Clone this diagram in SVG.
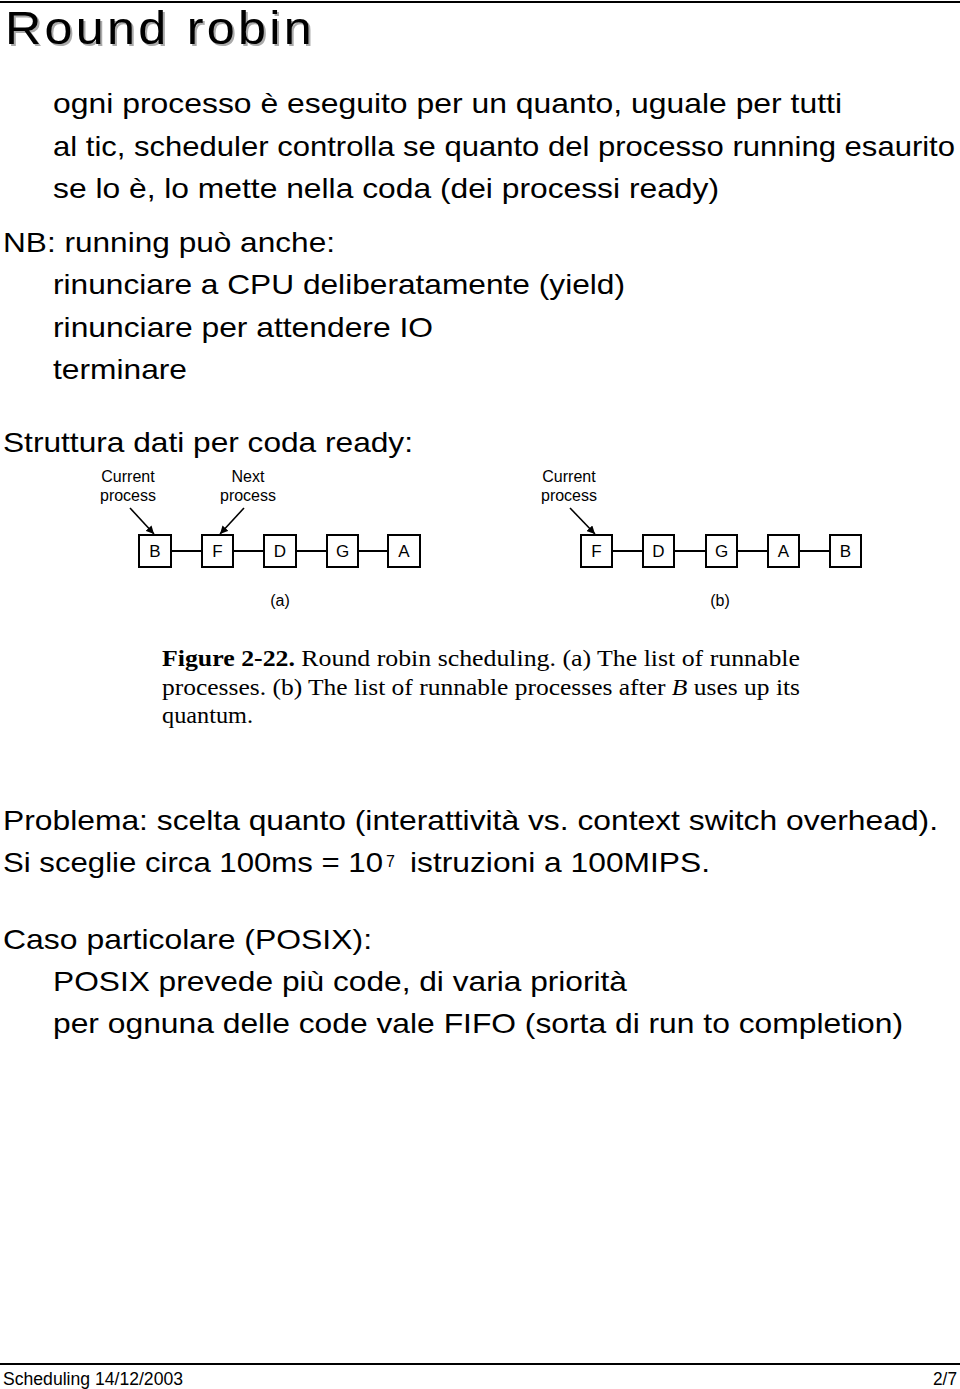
<svg xmlns="http://www.w3.org/2000/svg" width="960" height="1389" viewBox="0 0 960 1389">
<defs>
<marker id="ah" viewBox="0 0 10 10" refX="10" refY="5" markerWidth="8" markerHeight="8" orient="auto" markerUnits="userSpaceOnUse">
<path d="M0,0 L10,5 L0,10 z" fill="#000"/>
</marker>
</defs>
<style>
.body{font-family:"Liberation Sans",Arial,sans-serif;font-size:28px;fill:#000}
.sup{font-family:"Liberation Sans",Arial,sans-serif;font-size:16px;fill:#000}
.lab{font-family:"Liberation Sans",Arial,sans-serif;font-size:16px;fill:#000}
.box{fill:#fff;stroke:#000;stroke-width:2}
.bt{font-family:"Liberation Sans",Arial,sans-serif;font-size:17px;fill:#000;text-anchor:middle}
.cap{font-family:"Liberation Serif","Times New Roman",serif;font-size:24px;fill:#000}
.conn{stroke:#000;stroke-width:2;fill:none}
.arr{stroke:#000;stroke-width:1.6;fill:none;marker-end:url(#ah)}
.foot{font-family:"Liberation Sans",Arial,sans-serif;font-size:18px;fill:#000}
.title{font-family:"Liberation Sans",Arial,sans-serif;font-size:46px;letter-spacing:3px}
</style>
<rect width="960" height="1389" fill="#fff"/>
<line x1="0" y1="2" x2="960" y2="2" stroke="#000" stroke-width="2"/>
<text class="title" x="7" y="46" fill="#aaa" textLength="310" lengthAdjust="spacingAndGlyphs">Round robin</text>
<text class="title" x="5" y="44" fill="#000" textLength="310" lengthAdjust="spacingAndGlyphs">Round robin</text>

<text class="body" x="53" y="113" textLength="789" lengthAdjust="spacingAndGlyphs">ogni processo è eseguito per un quanto, uguale per tutti</text>
<text class="body" x="53" y="156" textLength="902" lengthAdjust="spacingAndGlyphs">al tic, scheduler controlla se quanto del processo running esaurito</text>
<text class="body" x="53" y="198" textLength="666" lengthAdjust="spacingAndGlyphs">se lo è, lo mette nella coda (dei processi ready)</text>
<text class="body" x="3" y="252" textLength="332" lengthAdjust="spacingAndGlyphs">NB: running può anche:</text>
<text class="body" x="53" y="294" textLength="572" lengthAdjust="spacingAndGlyphs">rinunciare a CPU deliberatamente (yield)</text>
<text class="body" x="53" y="337" textLength="380" lengthAdjust="spacingAndGlyphs">rinunciare per attendere IO</text>
<text class="body" x="53" y="379" textLength="134" lengthAdjust="spacingAndGlyphs">terminare</text>
<text class="body" x="3" y="452" textLength="410" lengthAdjust="spacingAndGlyphs">Struttura dati per coda ready:</text>

<g id="labels">
<text class="lab" x="128" y="482" text-anchor="middle">Current</text>
<text class="lab" x="128" y="501" text-anchor="middle">process</text>
<text class="lab" x="248" y="482" text-anchor="middle">Next</text>
<text class="lab" x="248" y="501" text-anchor="middle">process</text>
<text class="lab" x="569" y="482" text-anchor="middle">Current</text>
<text class="lab" x="569" y="501" text-anchor="middle">process</text>
<text class="lab" x="280" y="606" text-anchor="middle">(a)</text>
<text class="lab" x="720" y="606" text-anchor="middle">(b)</text>
</g>

<g id="connectors">
<line class="conn" x1="171" y1="551" x2="202" y2="551"/>
<line class="conn" x1="233" y1="551" x2="264" y2="551"/>
<line class="conn" x1="296" y1="551" x2="327" y2="551"/>
<line class="conn" x1="358" y1="551" x2="388" y2="551"/>
<line class="conn" x1="612" y1="551" x2="643" y2="551"/>
<line class="conn" x1="674" y1="551" x2="706" y2="551"/>
<line class="conn" x1="737" y1="551" x2="768" y2="551"/>
<line class="conn" x1="799" y1="551" x2="830" y2="551"/>
<line class="arr" x1="130" y1="508" x2="154" y2="534"/>
<line class="arr" x1="244" y1="508" x2="220" y2="534"/>
<line class="arr" x1="570" y1="508" x2="595" y2="534"/>
</g>

<g id="a-B"><rect class="box" x="139" y="535" width="32" height="32"/><text class="bt" x="155" y="557">B</text></g>
<g id="a-F"><rect class="box" x="202" y="535" width="31" height="32"/><text class="bt" x="217.5" y="557">F</text></g>
<g id="a-D"><rect class="box" x="264" y="535" width="32" height="32"/><text class="bt" x="280" y="557">D</text></g>
<g id="a-G"><rect class="box" x="327" y="535" width="31" height="32"/><text class="bt" x="342.5" y="557">G</text></g>
<g id="a-A"><rect class="box" x="388" y="535" width="32" height="32"/><text class="bt" x="404" y="557">A</text></g>

<g id="b-F"><rect class="box" x="581" y="535" width="31" height="32"/><text class="bt" x="596.5" y="557">F</text></g>
<g id="b-D"><rect class="box" x="643" y="535" width="31" height="32"/><text class="bt" x="658.5" y="557">D</text></g>
<g id="b-G"><rect class="box" x="706" y="535" width="31" height="32"/><text class="bt" x="721.5" y="557">G</text></g>
<g id="b-A"><rect class="box" x="768" y="535" width="31" height="32"/><text class="bt" x="783.5" y="557">A</text></g>
<g id="b-B"><rect class="box" x="830" y="535" width="31" height="32"/><text class="bt" x="845.5" y="557">B</text></g>

<text class="cap" x="162" y="666" textLength="638" lengthAdjust="spacingAndGlyphs"><tspan font-weight="bold">Figure 2-22.</tspan>  Round robin scheduling.  (a) The list of runnable</text>
<text class="cap" x="162" y="695" textLength="638" lengthAdjust="spacingAndGlyphs">processes.  (b) The list of runnable processes after <tspan font-style="italic">B</tspan> uses up its</text>
<text class="cap" x="162" y="723" textLength="91" lengthAdjust="spacingAndGlyphs">quantum.</text>

<text class="body" x="3" y="830" textLength="935" lengthAdjust="spacingAndGlyphs">Problema: scelta quanto (interattività vs. context switch overhead).</text>
<text class="body" x="3" y="872" textLength="380" lengthAdjust="spacingAndGlyphs">Si sceglie circa 100ms = 10</text>
<text class="sup" x="386" y="867">7</text>
<text class="body" x="410" y="872" textLength="300" lengthAdjust="spacingAndGlyphs">istruzioni a 100MIPS.</text>
<text class="body" x="3" y="949" textLength="369" lengthAdjust="spacingAndGlyphs">Caso particolare (POSIX):</text>
<text class="body" x="53" y="991" textLength="574" lengthAdjust="spacingAndGlyphs">POSIX prevede più code, di varia priorità</text>
<text class="body" x="53" y="1033" textLength="850" lengthAdjust="spacingAndGlyphs">per ognuna delle code vale FIFO (sorta di run to completion)</text>

<line x1="0" y1="1364" x2="960" y2="1364" stroke="#000" stroke-width="2"/>
<text class="foot" x="3" y="1385" textLength="180" lengthAdjust="spacingAndGlyphs">Scheduling 14/12/2003</text>
<text class="foot" x="957" y="1385" text-anchor="end" textLength="24" lengthAdjust="spacingAndGlyphs">2/7</text>
</svg>
